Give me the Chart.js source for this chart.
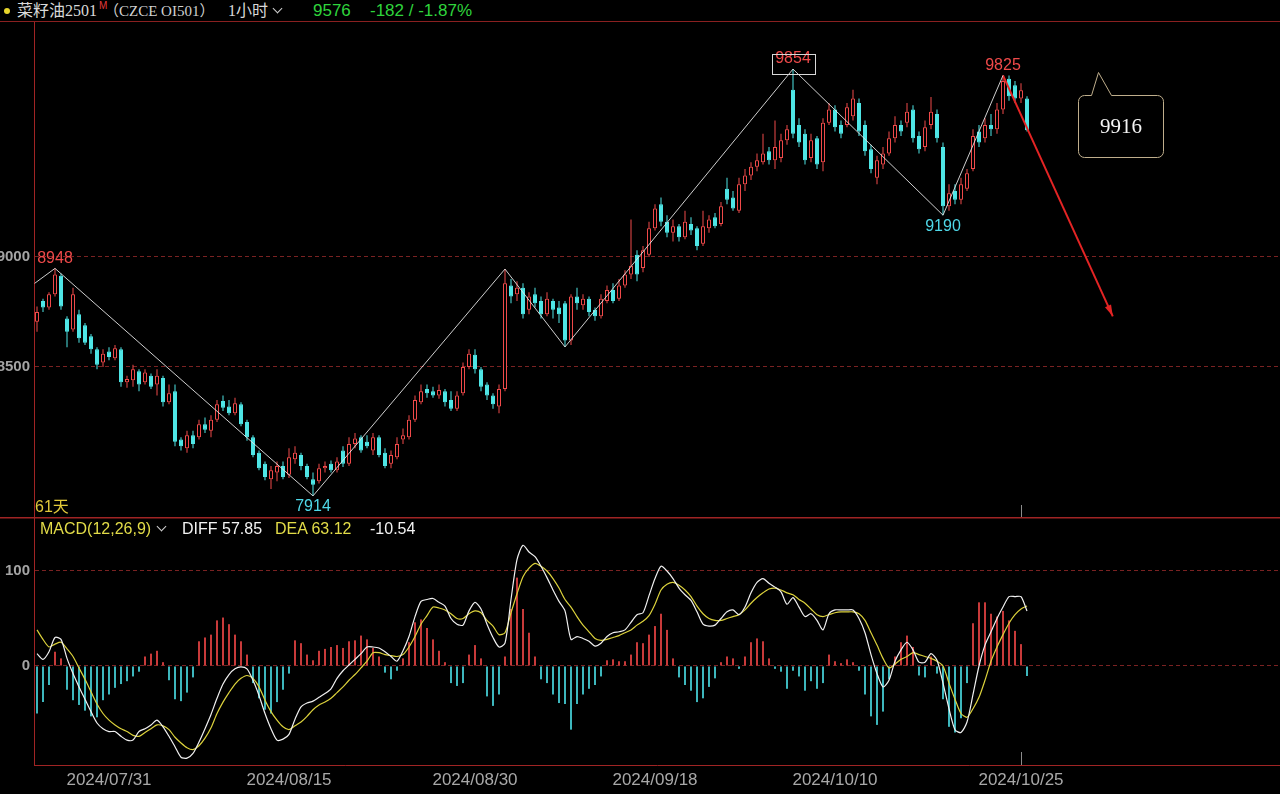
<!DOCTYPE html>
<html>
<head>
<meta charset="utf-8">
<title>菜籽油2501 1小时</title>
<script src="https://cdn.jsdelivr.net/npm/chart.js@4.4.1/dist/chart.umd.min.js"></script>
<style>
  html, body { margin: 0; padding: 0; background: #000; }
  body { position: relative; width: 1280px; height: 794px; overflow: hidden; font-family: "Liberation Sans", Arial, sans-serif; }
  #hdr { position: absolute; left: 0; top: 0; width: 1280px; height: 21px; border-bottom: 1px solid #8a2020; }
  .txt { position: absolute; white-space: nowrap; line-height: 20px; }
  .chev { position: absolute; width: 6px; height: 6px; border-right: 1.5px solid #d0d0d0; border-bottom: 1.5px solid #d0d0d0; transform: rotate(45deg); }
  canvas { position: absolute; left: 0; }
  #mainCv { top: 22px; }
  #macdCv { top: 517px; }
  .cjk { font-family: "Liberation Serif", "Noto Sans CJK SC", serif; }
</style>
</head>
<body>
<div id="hdr"></div>
<div style="position:absolute;left:4px;top:8px;width:6px;height:6px;border-radius:50%;background:#e8d62c"></div>
<div class="txt cjk" style="left:17px;top:1px;font-size:16px;color:#d8d8d8">菜籽油2501</div>
<div class="txt" style="left:99px;top:-4px;font-size:10px;color:#e23a3a">M</div>
<div class="txt cjk" style="left:104px;top:1px;font-size:15px;color:#d0d0d0">（CZCE OI501）</div>
<div class="txt cjk" style="left:228px;top:1px;font-size:16px;color:#d8d8d8">1小时</div>
<div class="chev" style="left:274px;top:5px"></div>
<div class="txt" id="lastPx" style="left:313px;top:1px;font-size:17px;color:#2fd43c"></div>
<div class="txt" id="chg" style="left:370px;top:1px;font-size:17px;color:#2fd43c"></div>

<canvas id="mainCv" width="1280" height="495"></canvas>
<canvas id="macdCv" width="1280" height="277"></canvas>

<div class="txt" style="left:35px;top:497px;font-size:16px;color:#e0c83a;font-family:'Liberation Sans','Noto Sans CJK SC'">61天</div>
<div class="txt" style="left:40px;top:519px;font-size:16px;color:#e2dc48">MACD(12,26,9)</div>
<div class="chev" style="left:158px;top:523px"></div>
<div class="txt" id="diffTxt" style="left:182px;top:519px;font-size:16px;color:#f2f2f2"></div>
<div class="txt" id="deaTxt" style="left:275px;top:519px;font-size:16px;color:#e2dc48"></div>
<div class="txt" id="histTxt" style="left:370px;top:519px;font-size:16px;color:#f2f2f2"></div>

<script>
const opens = [
  8705,8800,8770,8830,8915,8720,8670,8740,8690,8640,
  8580,8520,8570,8540,8580,8430,8440,8480,8430,8460,
  8420,8450,8340,8390,8170,8130,8190,8180,8240,8210,
  8260,8345,8320,8290,8330,8250,8180,8110,8060,7990,
  8020,8050,8010,8080,8100,8050,7990,7980,8040,8060,
  8030,8120,8060,8150,8180,8160,8120,8180,8110,8060,
  8090,8170,8180,8260,8340,8400,8390,8370,8390,8350,
  8310,8380,8500,8555,8490,8420,8370,8320,8400,8870,
  8830,8860,8760,8830,8800,8740,8800,8770,8790,8620,
  8820,8780,8810,8760,8730,8800,8850,8810,8870,8920,
  9010,8950,9010,9130,9240,9160,9110,9140,9090,9150,
  9130,9060,9130,9180,9150,9310,9270,9210,9330,9370,
  9410,9430,9480,9440,9450,9530,9760,9600,9560,9450,
  9540,9430,9610,9670,9600,9600,9640,9700,9600,9490,
  9360,9420,9470,9540,9600,9610,9670,9550,9500,9600,
  9650,9500,9230,9300,9260,9310,9400,9570,9540,9600,
  9580,9670,9810,9780,9720,9720
];
const highs = [
  8775,8810,8840,8948,8925,8730,8860,8760,8700,8650,
  8590,8580,8590,8600,8590,8460,8510,8490,8490,8470,
  8490,8460,8420,8420,8180,8210,8210,8260,8270,8280,
  8350,8370,8350,8360,8340,8260,8190,8120,8070,8050,
  8070,8070,8130,8140,8110,8060,8020,8060,8070,8075,
  8090,8140,8180,8200,8190,8190,8200,8190,8130,8120,
  8180,8220,8280,8370,8420,8420,8410,8420,8400,8390,
  8390,8520,8580,8580,8500,8430,8380,8420,8945,8900,
  8890,8880,8840,8860,8820,8840,8810,8800,8800,8830,
  8860,8830,8820,8770,8830,8870,8880,8900,8940,9170,
  9030,9050,9160,9240,9270,9190,9170,9150,9210,9180,
  9140,9210,9190,9200,9250,9360,9300,9360,9400,9430,
  9470,9560,9500,9620,9560,9600,9854,9630,9580,9560,
  9550,9630,9700,9690,9620,9700,9760,9720,9620,9510,
  9460,9500,9570,9640,9620,9700,9690,9570,9620,9727,
  9670,9520,9330,9330,9360,9400,9580,9600,9630,9650,
  9700,9825,9825,9800,9790,9730
];
const lows = [
  8660,8750,8760,8820,8760,8590,8660,8610,8600,8560,
  8490,8500,8530,8530,8410,8405,8410,8390,8420,8400,
  8370,8320,8330,8140,8120,8110,8130,8170,8200,8180,
  8250,8300,8280,8280,8230,8165,8090,8030,7985,7945,
  7980,7990,7995,8060,8030,7990,7914,7970,8020,8020,
  8020,8045,8050,8130,8110,8130,8100,8090,8040,8040,
  8080,8150,8170,8250,8330,8360,8360,8355,8320,8300,
  8300,8370,8490,8470,8390,8350,8310,8290,8390,8790,
  8800,8720,8740,8770,8720,8730,8720,8700,8591,8600,
  8760,8760,8730,8710,8720,8790,8790,8800,8860,8900,
  8890,8930,9000,9120,9140,9090,9070,9070,9080,9100,
  9030,9050,9110,9130,9140,9240,9210,9200,9300,9350,
  9390,9420,9420,9400,9430,9510,9540,9500,9420,9430,
  9400,9390,9600,9570,9540,9590,9620,9550,9460,9380,
  9330,9400,9460,9520,9550,9590,9520,9470,9480,9580,
  9520,9190,9210,9240,9240,9300,9390,9500,9520,9550,
  9560,9650,9710,9700,9700,9570
];
const closes = [
  8750,8770,8830,8920,8775,8660,8830,8630,8610,8580,
  8510,8560,8545,8585,8430,8445,8490,8420,8475,8410,
  8460,8340,8380,8160,8140,8190,8150,8240,8215,8260,
  8330,8315,8290,8335,8240,8180,8100,8040,8000,8030,
  8050,8000,8090,8110,8050,8000,7965,8040,8050,8030,
  8070,8060,8150,8175,8120,8140,8180,8100,8050,8100,
  8150,8190,8260,8350,8390,8380,8370,8395,8340,8310,
  8370,8500,8560,8490,8410,8370,8330,8400,8880,8820,
  8860,8740,8820,8790,8740,8810,8760,8740,8620,8820,
  8790,8810,8750,8730,8810,8850,8800,8870,8920,8960,
  8920,9030,9130,9220,9160,9110,9140,9090,9160,9120,
  9050,9140,9170,9140,9230,9260,9220,9330,9370,9410,
  9440,9470,9440,9500,9530,9580,9560,9520,9440,9530,
  9420,9610,9670,9590,9560,9680,9720,9570,9480,9400,
  9440,9470,9540,9600,9570,9660,9540,9490,9590,9660,
  9540,9230,9290,9260,9330,9380,9550,9520,9600,9580,
  9670,9800,9730,9720,9758,9576
];

// MACD(12,26,9)
const diffVals = [
  13,7,15,30,28,8,-8,-22,-35,-48,
  -60,-66,-69,-69,-74,-78,-78,-69,-66,-62,
  -57,-64,-74,-85,-96,-97,-92,-80,-66,-51,
  -34,-19,-9,-3,-1,-3,-15,-31,-50,-66,
  -78,-77,-72,-56,-43,-39,-37,-33,-29,-24,
  -13,-5,1,7,13,20,20,19,15,10,
  5,16,31,52,68,70,71,67,63,50,
  44,43,58,67,60,44,30,20,24,70,
  112,127,120,115,105,93,80,68,58,28,
  31,29,26,21,24,31,35,36,38,46,
  54,56,74,92,105,100,92,82,75,69,
  57,44,42,43,50,57,59,54,62,77,
  88,92,87,83,78,65,72,62,52,55,
  48,38,55,59,59,59,59,50,35,12,
  -8,-22,-15,5,17,25,17,4,4,13,
  6,-18,-45,-67,-70,-59,-30,0,22,36,
  50,62,73,73,73,57.85
];
const deaVals = [
  38,28,20,23,25,18,10,-2,-14,-27,
  -40,-50,-57,-62,-66,-69,-73,-74,-70,-66,
  -62,-63,-67,-75,-81,-86,-88,-84,-76,-65,
  -50,-38,-28,-19,-13,-10,-13,-22,-36,-48,
  -57,-64,-67,-63,-59,-53,-46,-41,-38,-34,
  -28,-22,-15,-9,-2,5,14,14,12,11,
  10,12,20,31,44,53,62,61,59,55,
  50,50,55,58,56,48,42,33,35,56,
  76,94,103,108,105,100,92,82,70,62,
  52,43,36,29,27,28,30,32,35,38,
  43,47,53,65,80,86,88,85,80,73,
  63,55,50,48,48,50,52,54,59,66,
  72,77,81,82,80,77,75,70,66,60,
  54,52,54,56,57,57,57,55,48,35,
  22,8,-2,2,7,10,14,12,10,8,
  5,0,-18,-35,-50,-54,-45,-33,-15,5,
  20,33,45,54,60,63.12
];
const macdHist = [
  -50,-38,-20,15,8,-25,-36,-41,-47,-53,
  -54,-36,-30,-23,-19,-16,-11,-6,10,13,
  16,4,-15,-35,-37,-28,-12,26,30,33,
  48,51,44,33,26,12,-18,-34,-46,-50,
  -38,-25,-8,27,24,12,6,16,18,20,
  22,19,26,27,32,28,19,10,-7,-14,
  -5,8,25,46,49,40,28,16,4,-18,
  -21,-18,12,22,8,-32,-42,-30,10,60,
  93,60,35,10,-14,-18,-30,-39,-40,-67,
  -40,-30,-24,-20,-11,6,7,5,5,12,
  25,24,33,42,55,38,8,-12,-20,-26,
  -38,-34,-22,-13,4,10,8,-3,10,25,
  29,26,8,-3,-6,-24,-5,-11,-26,-16,
  -24,-18,12,5,3,7,4,-5,-30,-53,
  -62,-48,-14,10,25,32,20,-10,-12,10,
  -8,-35,-64,-70,-55,-18,45,67,67,55,
  52,58,48,37,23,-10.54
];

const dateIdx = [12, 42, 73, 103, 133, 164];
const dateLabels = ['2024/07/31', '2024/08/15', '2024/08/30', '2024/09/18', '2024/10/10', '2024/10/25'];
const priceTicks = [8500, 9000];
const macdTicks = [0, 100];

// swing line (zigzag) turning points and the projected move
const pivotIdx = [-0.4, 3, 46, 78, 88, 126, 151, 161];
const pivotPrice = [8880, 8948, 7914, 8945, 8591, 9854, 9190, 9825];
const labeledPivots = [1, 2, 5, 6, 7];
const boxedPivot = 5;
const targetIdx = 179.3;
const targetPrice = 8730;
const calloutText = '9916';

const UP = '#f04a4a', DOWN = '#4fe6e6';
const HIST_UP = '#c83a3a', HIST_DN = '#3db7bd';
const BORDER = '#a02424', GRID = '#7a2222';
const X_MIN = -0.5, X_MAX = 207.1667;

Chart.defaults.font.family = '"Liberation Sans", Arial, sans-serif';

// header / legend texts from the data
const last = closes.length - 1;
const chg = closes[last] - closes[last - 1];
document.getElementById('lastPx').textContent = closes[last];
document.getElementById('chg').textContent = chg + ' / ' + (chg / closes[last - 1] * 100).toFixed(2) + '%';
document.getElementById('diffTxt').textContent = 'DIFF ' + diffVals[last].toFixed(2);
document.getElementById('deaTxt').textContent = 'DEA ' + deaVals[last].toFixed(2);
document.getElementById('histTxt').textContent = macdHist[last].toFixed(2);

const isUp = i => i === undefined || closes[i] >= opens[i];

// no automatic padding: the panels must butt exactly against each other
const noPad = s => { s.paddingTop = 0; s.paddingBottom = 0; s.paddingLeft = 0; s.paddingRight = 0; };

const mainDecor = {
  id: 'mainDecor',
  afterDatasetsDraw(chart) {
    const { ctx, chartArea: a, scales: { x, y } } = chart;
    ctx.save();

    // date marker at the last labelled day
    const mx = Math.round(x.getPixelForValue(dateIdx[dateIdx.length - 1])) + 0.5;
    ctx.strokeStyle = '#8c8c8c';
    ctx.lineWidth = 1;
    ctx.beginPath(); ctx.moveTo(mx, a.bottom - 12); ctx.lineTo(mx, a.bottom); ctx.stroke();

    // arrow head on the projection
    const n = pivotIdx.length - 1;
    const x0 = x.getPixelForValue(pivotIdx[n]), y0 = y.getPixelForValue(pivotPrice[n]);
    const x1 = x.getPixelForValue(targetIdx), y1 = y.getPixelForValue(targetPrice);
    const ang = Math.atan2(y1 - y0, x1 - x0);
    ctx.fillStyle = '#e42424';
    ctx.beginPath();
    ctx.moveTo(x1, y1);
    ctx.lineTo(x1 - 12 * Math.cos(ang - 0.28), y1 - 12 * Math.sin(ang - 0.28));
    ctx.lineTo(x1 - 12 * Math.cos(ang + 0.28), y1 - 12 * Math.sin(ang + 0.28));
    ctx.closePath();
    ctx.fill();

    // swing high / low labels
    ctx.font = '16px "Liberation Sans", Arial, sans-serif';
    ctx.textAlign = 'center';
    labeledPivots.forEach(k => {
      const px = x.getPixelForValue(pivotIdx[k]);
      const py = y.getPixelForValue(pivotPrice[k]);
      const txt = String(pivotPrice[k]);
      if (pivotPrice[k] > pivotPrice[k - 1]) {
        ctx.fillStyle = '#f04a4a';
        ctx.textBaseline = 'bottom';
        ctx.fillText(txt, px, py - 2);
      } else {
        ctx.fillStyle = '#4fd8e8';
        ctx.textBaseline = 'top';
        ctx.fillText(txt, px, py + 3);
      }
      if (k === boxedPivot) {
        ctx.strokeStyle = '#d8d8d8';
        ctx.lineWidth = 1;
        ctx.strokeRect(Math.round(px - 21) + 0.5, Math.round(py - 15) + 0.5, 43, 20);
      }
    });

    // speech bubble note
    const bx = a.right - 201.5, by = a.top + 73.5, bw = 85, bh = 62, r = 6;
    ctx.strokeStyle = '#bfae8c';
    ctx.lineWidth = 1;
    ctx.beginPath();
    ctx.moveTo(bx + r, by);
    ctx.lineTo(bx + 13, by);
    ctx.lineTo(bx + 20, by - 23);
    ctx.lineTo(bx + 33, by);
    ctx.lineTo(bx + bw - r, by);
    ctx.arcTo(bx + bw, by, bx + bw, by + r, r);
    ctx.lineTo(bx + bw, by + bh - r);
    ctx.arcTo(bx + bw, by + bh, bx + bw - r, by + bh, r);
    ctx.lineTo(bx + r, by + bh);
    ctx.arcTo(bx, by + bh, bx, by + bh - r, r);
    ctx.lineTo(bx, by + r);
    ctx.arcTo(bx, by, bx + r, by, r);
    ctx.closePath();
    ctx.stroke();
    ctx.fillStyle = '#f4f4f4';
    ctx.font = '21px "Liberation Serif", "DejaVu Serif", serif';
    ctx.textBaseline = 'middle';
    ctx.fillText(calloutText, bx + bw / 2, by + bh / 2 + 1);

    ctx.restore();
  }
};

const macdDecor = {
  id: 'macdDecor',
  afterDatasetsDraw(chart) {
    const { ctx, chartArea: a, scales: { x } } = chart;
    ctx.save();
    ctx.strokeStyle = BORDER;
    ctx.lineWidth = 1.5;
    ctx.beginPath(); ctx.moveTo(0, a.top + 0.75); ctx.lineTo(a.right, a.top + 0.75); ctx.stroke();
    const mx = Math.round(x.getPixelForValue(dateIdx[dateIdx.length - 1])) + 0.5;
    ctx.strokeStyle = '#8c8c8c';
    ctx.lineWidth = 1;
    ctx.beginPath(); ctx.moveTo(mx, a.bottom - 13); ctx.lineTo(mx, a.bottom); ctx.stroke();
    ctx.restore();
  }
};

const baseOpts = {
  responsive: false,
  animation: false,
  devicePixelRatio: 1,
  events: [],
  layout: { padding: 0, autoPadding: false },
  plugins: { legend: { display: false }, tooltip: { enabled: false } }
};

new Chart(document.getElementById('mainCv'), {
  type: 'bar',
  data: {
    datasets: [
      {
        type: 'line', label: 'swing',
        data: pivotIdx.map((v, k) => ({ x: v, y: pivotPrice[k] })),
        borderColor: 'rgba(228,228,228,0.9)', borderWidth: 1, pointRadius: 0, tension: 0, order: 0
      },
      {
        type: 'line', label: 'target',
        data: [{ x: pivotIdx[pivotIdx.length - 1], y: pivotPrice[pivotPrice.length - 1] }, { x: targetIdx, y: targetPrice }],
        borderColor: '#e42424', borderWidth: 2, pointRadius: 0, order: 0
      },
      {
        label: 'body',
        data: opens.map((o, i) => ({ x: i, y: [o, closes[i]] })),
        backgroundColor: c => isUp(c.dataIndex) ? '#000' : DOWN,
        borderColor: c => isUp(c.dataIndex) ? UP : DOWN,
        borderWidth: 1, borderSkipped: false, barThickness: 4,
        grouped: false, inflateAmount: 0, order: 1
      },
      {
        label: 'wick',
        data: highs.map((h, i) => ({ x: i, y: [lows[i], h] })),
        backgroundColor: c => isUp(c.dataIndex) ? UP : DOWN,
        borderWidth: 0, barThickness: 1, grouped: false, inflateAmount: 0, order: 2
      }
    ]
  },
  options: {
    ...baseOpts,
    scales: {
      x: { type: 'linear', min: X_MIN, max: X_MAX, offset: false, display: false },
      y: {
        min: 7818, max: 10068,
        afterFit: s => { s.width = 34; noPad(s); },
        afterBuildTicks: s => { s.ticks = priceTicks.map(v => ({ value: v })); },
        grid: { color: GRID, drawTicks: false },
        border: { color: BORDER, dash: [4, 3] },
        ticks: { color: '#a4a4a4', padding: 4, font: { size: 15, weight: 'bold' }, callback: v => String(v) }
      }
    }
  },
  plugins: [mainDecor]
});

new Chart(document.getElementById('macdCv'), {
  type: 'bar',
  data: {
    datasets: [
      {
        type: 'line', label: 'DIFF',
        data: diffVals.map((v, i) => ({ x: i, y: v })),
        borderColor: '#f0f0f0', borderWidth: 1.2, pointRadius: 0, tension: 0.25, order: 0
      },
      {
        type: 'line', label: 'DEA',
        data: deaVals.map((v, i) => ({ x: i, y: v })),
        borderColor: '#dcd23c', borderWidth: 1.2, pointRadius: 0, tension: 0.25, order: 1
      },
      {
        label: 'MACD',
        data: macdHist.map((v, i) => ({ x: i, y: v })),
        backgroundColor: c => (c.dataIndex === undefined || macdHist[c.dataIndex] >= 0) ? HIST_UP : HIST_DN,
        barThickness: 2, grouped: false, inflateAmount: 0, order: 2
      }
    ]
  },
  options: {
    ...baseOpts,
    scales: {
      x: {
        type: 'linear', min: X_MIN, max: X_MAX, offset: false,
        afterFit: s => { s.height = 29; noPad(s); },
        afterBuildTicks: s => { s.ticks = dateIdx.map(v => ({ value: v })); },
        grid: { display: false, drawTicks: false },
        border: { display: true, color: BORDER },
        ticks: {
          color: '#a8a8a8', font: { size: 17 }, padding: 5, autoSkip: false, maxRotation: 0,
          callback: v => dateLabels[dateIdx.indexOf(v)]
        }
      },
      y: {
        min: -104.2, max: 156.8,
        afterFit: s => { s.width = 34; noPad(s); },
        afterBuildTicks: s => { s.ticks = macdTicks.map(v => ({ value: v })); },
        grid: { color: GRID, drawTicks: false },
        border: { color: BORDER, dash: [4, 3] },
        ticks: { color: '#a4a4a4', padding: 4, font: { size: 15, weight: 'bold' }, callback: v => String(v) }
      }
    }
  },
  plugins: [macdDecor]
});
</script>
</body>
</html>
